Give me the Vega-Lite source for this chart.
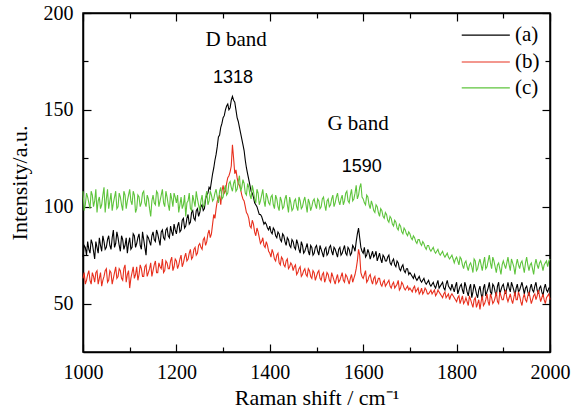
{
 "$schema": "https://vega.github.io/schema/vega-lite/v6.json",
 "width": 467, "height": 339,
 "autosize": {"type": "none"},
 "padding": {"left": 83, "top": 13, "right": 28, "bottom": 61},
 "background": "white",
 "config": {"view": {"stroke": "#000", "strokeWidth": 1.5}, "font": "Liberation Serif",
  "axis": {"labelFont": "Liberation Serif", "titleFont": "Liberation Serif"}},
 "data": {"values": [
{"x":1000,"a":74,"b":63,"c":108},{"x":1005,"a":79,"b":60,"c":101},{"x":1010,"a":82,"b":65,"c":105},{"x":1015,"a":76,"b":62,"c":99},{"x":1020,"a":81,"b":66,"c":106},{"x":1025,"a":73,"b":61,"c":103},{"x":1030,"a":79,"b":67,"c":97},{"x":1035,"a":84,"b":63,"c":105},{"x":1040,"a":77,"b":59,"c":101},{"x":1045,"a":82,"b":64,"c":110},
{"x":1050,"a":79,"b":68,"c":104},{"x":1055,"a":85,"b":62,"c":99},{"x":1060,"a":78,"b":66,"c":107},{"x":1065,"a":88,"b":63,"c":102},{"x":1070,"a":81,"b":69,"c":108},{"x":1075,"a":84,"b":64,"c":100},{"x":1080,"a":77,"b":67,"c":105},{"x":1085,"a":83,"b":62,"c":98},{"x":1090,"a":80,"b":70,"c":106},{"x":1095,"a":76,"b":65,"c":103},
{"x":1100,"a":84,"b":58,"c":109},{"x":1105,"a":79,"b":66,"c":101},{"x":1110,"a":85,"b":63,"c":106},{"x":1115,"a":81,"b":69,"c":99},{"x":1120,"a":86,"b":65,"c":105},{"x":1125,"a":78,"b":68,"c":102},{"x":1130,"a":83,"b":64,"c":108},{"x":1135,"a":75,"b":70,"c":100},{"x":1140,"a":84,"b":66,"c":104},{"x":1145,"a":80,"b":71,"c":95},
{"x":1150,"a":87,"b":67,"c":106},{"x":1155,"a":82,"b":72,"c":101},{"x":1160,"a":86,"b":66,"c":107},{"x":1165,"a":80,"b":69,"c":103},{"x":1170,"a":88,"b":73,"c":109},{"x":1175,"a":83,"b":67,"c":100},{"x":1180,"a":89,"b":71,"c":105},{"x":1185,"a":84,"b":68,"c":98},{"x":1190,"a":87,"b":74,"c":104},{"x":1195,"a":91,"b":69,"c":107},
{"x":1200,"a":86,"b":72,"c":102},{"x":1205,"a":92,"b":70,"c":97},{"x":1210,"a":88,"b":75,"c":105},{"x":1215,"a":94,"b":71,"c":101},{"x":1220,"a":90,"b":76,"c":95},{"x":1225,"a":96,"b":73,"c":103},{"x":1230,"a":92,"b":78,"c":99},{"x":1235,"a":98,"b":74,"c":106},{"x":1240,"a":93,"b":79,"c":100},{"x":1245,"a":99,"b":76,"c":104},
{"x":1250,"a":97,"b":81,"c":98},{"x":1255,"a":101,"b":78,"c":106},{"x":1260,"a":99,"b":84,"c":101},{"x":1265,"a":106,"b":82,"c":108},{"x":1270,"a":110,"b":88,"c":103},{"x":1275,"a":113,"b":86,"c":106},{"x":1280,"a":120,"b":96,"c":104},{"x":1285,"a":127,"b":99,"c":109},{"x":1290,"a":136,"b":104,"c":102},{"x":1295,"a":141,"b":101,"c":110},
{"x":1300,"a":146,"b":111,"c":105},{"x":1305,"a":150,"b":108,"c":111},{"x":1310,"a":153,"b":115,"c":107},{"x":1315,"a":151,"b":118,"c":113},{"x":1320,"a":157,"b":132,"c":108},{"x":1325,"a":154,"b":117,"c":114},{"x":1330,"a":146,"b":115,"c":109},{"x":1335,"a":141,"b":111,"c":116},{"x":1340,"a":135,"b":106,"c":110},{"x":1345,"a":129,"b":103,"c":112},
{"x":1350,"a":120,"b":97,"c":106},{"x":1355,"a":114,"b":94,"c":110},{"x":1360,"a":108,"b":89,"c":104},{"x":1365,"a":105,"b":91,"c":108},{"x":1370,"a":101,"b":85,"c":102},{"x":1375,"a":98,"b":87,"c":107},{"x":1380,"a":96,"b":81,"c":103},{"x":1385,"a":93,"b":84,"c":109},{"x":1390,"a":92,"b":79,"c":100},{"x":1395,"a":89,"b":80,"c":105},
{"x":1400,"a":90,"b":76,"c":101},{"x":1405,"a":86,"b":78,"c":106},{"x":1410,"a":88,"b":73,"c":99},{"x":1415,"a":84,"b":75,"c":104},{"x":1420,"a":86,"b":71,"c":98},{"x":1425,"a":82,"b":74,"c":103},{"x":1430,"a":85,"b":70,"c":100},{"x":1435,"a":80,"b":72,"c":106},{"x":1440,"a":83,"b":68,"c":97},{"x":1445,"a":79,"b":71,"c":102},
{"x":1450,"a":82,"b":67,"c":99},{"x":1455,"a":78,"b":70,"c":104},{"x":1460,"a":81,"b":66,"c":98},{"x":1465,"a":76,"b":69,"c":103},{"x":1470,"a":80,"b":65,"c":100},{"x":1475,"a":77,"b":68,"c":105},{"x":1480,"a":81,"b":64,"c":97},{"x":1485,"a":75,"b":67,"c":102},{"x":1490,"a":79,"b":63,"c":100},{"x":1495,"a":76,"b":66,"c":104},
{"x":1500,"a":80,"b":64,"c":99},{"x":1505,"a":75,"b":67,"c":103},{"x":1510,"a":78,"b":62,"c":100},{"x":1515,"a":74,"b":66,"c":105},{"x":1520,"a":79,"b":63,"c":98},{"x":1525,"a":76,"b":65,"c":104},{"x":1530,"a":80,"b":61,"c":101},{"x":1535,"a":75,"b":64,"c":106},{"x":1540,"a":78,"b":60,"c":102},{"x":1545,"a":74,"b":65,"c":107},
{"x":1550,"a":79,"b":62,"c":101},{"x":1555,"a":76,"b":66,"c":106},{"x":1560,"a":80,"b":61,"c":103},{"x":1565,"a":75,"b":64,"c":108},{"x":1570,"a":78,"b":60,"c":102},{"x":1575,"a":76,"b":65,"c":109},{"x":1580,"a":79,"b":63,"c":104},{"x":1585,"a":82,"b":68,"c":111},{"x":1590,"a":89,"b":78,"c":106},{"x":1595,"a":79,"b":66,"c":112},
{"x":1600,"a":76,"b":63,"c":104},{"x":1605,"a":74,"b":67,"c":101},{"x":1610,"a":78,"b":62,"c":105},{"x":1615,"a":73,"b":65,"c":99},{"x":1620,"a":77,"b":60,"c":101},{"x":1625,"a":75,"b":64,"c":97},{"x":1630,"a":72,"b":61,"c":100},{"x":1635,"a":76,"b":63,"c":95},{"x":1640,"a":71,"b":59,"c":98},{"x":1645,"a":74,"b":62,"c":94},
{"x":1650,"a":72,"b":60,"c":96},{"x":1655,"a":75,"b":62,"c":92},{"x":1660,"a":70,"b":58,"c":94},{"x":1665,"a":73,"b":61,"c":90},{"x":1670,"a":69,"b":59,"c":92},{"x":1675,"a":71,"b":62,"c":88},{"x":1680,"a":67,"b":58,"c":90},{"x":1685,"a":70,"b":60,"c":86},{"x":1690,"a":66,"b":57,"c":88},{"x":1695,"a":68,"b":59,"c":85},
{"x":1700,"a":66,"b":58,"c":86},{"x":1705,"a":64,"b":56,"c":83},{"x":1710,"a":65,"b":59,"c":84},{"x":1715,"a":62,"b":57,"c":81},{"x":1720,"a":64,"b":55,"c":83},{"x":1725,"a":61,"b":58,"c":80},{"x":1730,"a":63,"b":56,"c":81},{"x":1735,"a":60,"b":57,"c":78},{"x":1740,"a":62,"b":55,"c":80},{"x":1745,"a":59,"b":57,"c":77},
{"x":1750,"a":61,"b":56,"c":79},{"x":1755,"a":58,"b":54,"c":76},{"x":1760,"a":62,"b":57,"c":78},{"x":1765,"a":59,"b":55,"c":75},{"x":1770,"a":61,"b":53,"c":77},{"x":1775,"a":57,"b":56,"c":74},{"x":1780,"a":62,"b":54,"c":76},{"x":1785,"a":58,"b":52,"c":73},{"x":1790,"a":60,"b":55,"c":75},{"x":1795,"a":56,"b":53,"c":71},
{"x":1800,"a":61,"b":51,"c":74},{"x":1805,"a":57,"b":54,"c":70},{"x":1810,"a":60,"b":52,"c":73},{"x":1815,"a":55,"b":50,"c":68},{"x":1820,"a":59,"b":53,"c":72},{"x":1825,"a":54,"b":49,"c":67},{"x":1830,"a":60,"b":52,"c":71},{"x":1835,"a":56,"b":48,"c":66},{"x":1840,"a":58,"b":53,"c":72},{"x":1845,"a":53,"b":50,"c":68},
{"x":1850,"a":59,"b":47,"c":73},{"x":1855,"a":52,"b":54,"c":67},{"x":1860,"a":60,"b":50,"c":74},{"x":1865,"a":56,"b":55,"c":69},{"x":1870,"a":61,"b":49,"c":75},{"x":1875,"a":55,"b":53,"c":68},{"x":1880,"a":59,"b":51,"c":72},{"x":1885,"a":54,"b":56,"c":66},{"x":1890,"a":61,"b":50,"c":71},{"x":1895,"a":57,"b":54,"c":65},
{"x":1900,"a":60,"b":52,"c":72},{"x":1905,"a":55,"b":57,"c":68},{"x":1910,"a":61,"b":51,"c":74},{"x":1915,"a":56,"b":55,"c":67},{"x":1920,"a":59,"b":50,"c":71},{"x":1925,"a":54,"b":56,"c":65},{"x":1930,"a":60,"b":52,"c":73},{"x":1935,"a":57,"b":54,"c":68},{"x":1940,"a":61,"b":49,"c":72},{"x":1945,"a":55,"b":55,"c":66},
{"x":1950,"a":59,"b":51,"c":74},{"x":1955,"a":54,"b":56,"c":67},{"x":1960,"a":60,"b":50,"c":71},{"x":1965,"a":56,"b":54,"c":65},{"x":1970,"a":61,"b":52,"c":73},{"x":1975,"a":55,"b":57,"c":68},{"x":1980,"a":59,"b":51,"c":72},{"x":1985,"a":54,"b":55,"c":67},{"x":1990,"a":60,"b":50,"c":71},{"x":1995,"a":56,"b":54,"c":69},
{"x":2000,"a":58,"b":52,"c":73},
{"x":1002.5,"a":80,"b":66,"c":98},{"x":1007.5,"a":75,"b":62,"c":107},{"x":1012.5,"a":78,"b":67,"c":102},{"x":1017.5,"a":83,"b":60,"c":108},{"x":1022.5,"a":77,"b":64,"c":100},{"x":1027.5,"a":82,"b":66,"c":109},{"x":1032.5,"a":76,"b":60,"c":103},{"x":1037.5,"a":80,"b":66,"c":99},{"x":1042.5,"a":85,"b":62,"c":106},{"x":1047.5,"a":78,"b":67,"c":97},
{"x":1052.5,"a":83,"b":61,"c":109},{"x":1057.5,"a":80,"b":67,"c":103},{"x":1062.5,"a":84,"b":60,"c":98},{"x":1067.5,"a":79,"b":66,"c":105},{"x":1072.5,"a":87,"b":63,"c":99},{"x":1077.5,"a":80,"b":68,"c":107},{"x":1082.5,"a":85,"b":63,"c":101},{"x":1087.5,"a":78,"b":68,"c":108},{"x":1092.5,"a":84,"b":61,"c":99},{"x":1097.5,"a":81,"b":67,"c":106},
{"x":1102.5,"a":78,"b":63,"c":103},{"x":1107.5,"a":86,"b":69,"c":108},{"x":1112.5,"a":79,"b":65,"c":97},{"x":1117.5,"a":84,"b":62,"c":106},{"x":1122.5,"a":80,"b":70,"c":100},{"x":1127.5,"a":87,"b":64,"c":107},{"x":1132.5,"a":79,"b":69,"c":102},{"x":1137.5,"a":85,"b":64,"c":106},{"x":1142.5,"a":82,"b":68,"c":99},{"x":1147.5,"a":85,"b":64,"c":103},
{"x":1152.5,"a":83,"b":70,"c":102},{"x":1157.5,"a":88,"b":66,"c":108},{"x":1162.5,"a":83,"b":71,"c":100},{"x":1167.5,"a":87,"b":68,"c":106},{"x":1172.5,"a":84,"b":66,"c":102},{"x":1177.5,"a":88,"b":72,"c":108},{"x":1182.5,"a":85,"b":68,"c":101},{"x":1187.5,"a":90,"b":72,"c":107},{"x":1192.5,"a":85,"b":67,"c":100},{"x":1197.5,"a":88,"b":73,"c":105},
{"x":1202.5,"a":90,"b":68,"c":106},{"x":1207.5,"a":87,"b":73,"c":101},{"x":1212.5,"a":93,"b":69,"c":99},{"x":1217.5,"a":89,"b":74,"c":106},{"x":1222.5,"a":94,"b":72,"c":102},{"x":1227.5,"a":91,"b":76,"c":107},{"x":1232.5,"a":97,"b":73,"c":98},{"x":1237.5,"a":94,"b":78,"c":103},{"x":1242.5,"a":98,"b":75,"c":108},{"x":1247.5,"a":95,"b":80,"c":101},
{"x":1252.5,"a":100,"b":79,"c":103},{"x":1257.5,"a":98,"b":83,"c":100},{"x":1262.5,"a":104,"b":80,"c":105},{"x":1267.5,"a":107,"b":86,"c":101},{"x":1272.5,"a":109,"b":84,"c":108},{"x":1277.5,"a":117,"b":91,"c":103},{"x":1282.5,"a":124,"b":94,"c":107},{"x":1287.5,"a":131,"b":103,"c":105},{"x":1292.5,"a":137,"b":106,"c":108},{"x":1297.5,"a":143,"b":108,"c":104},
{"x":1302.5,"a":147,"b":107,"c":109},{"x":1307.5,"a":152,"b":112,"c":106},{"x":1312.5,"a":150,"b":116,"c":112},{"x":1317.5,"a":155,"b":121,"c":110},{"x":1322.5,"a":155,"b":125,"c":112},{"x":1327.5,"a":150,"b":119,"c":108},{"x":1332.5,"a":144,"b":112,"c":113},{"x":1337.5,"a":138,"b":109,"c":108},{"x":1342.5,"a":132,"b":104,"c":114},{"x":1347.5,"a":124,"b":100,"c":107},
{"x":1352.5,"a":117,"b":96,"c":112},{"x":1357.5,"a":111,"b":90,"c":106},{"x":1362.5,"a":107,"b":93,"c":111},{"x":1367.5,"a":102,"b":87,"c":104},{"x":1372.5,"a":100,"b":89,"c":109},{"x":1377.5,"a":96,"b":84,"c":101},{"x":1382.5,"a":95,"b":82,"c":106},{"x":1387.5,"a":91,"b":80,"c":103},{"x":1392.5,"a":91,"b":82,"c":107},{"x":1397.5,"a":88,"b":77,"c":102},
{"x":1402.5,"a":87,"b":74,"c":105},{"x":1407.5,"a":89,"b":76,"c":101},{"x":1412.5,"a":85,"b":72,"c":106},{"x":1417.5,"a":87,"b":76,"c":100},{"x":1422.5,"a":83,"b":70,"c":105},{"x":1427.5,"a":86,"b":73,"c":99},{"x":1432.5,"a":82,"b":69,"c":104},{"x":1437.5,"a":84,"b":73,"c":101},{"x":1442.5,"a":80,"b":69,"c":105},{"x":1447.5,"a":83,"b":70,"c":98},
{"x":1452.5,"a":79,"b":69,"c":103},{"x":1457.5,"a":83,"b":65,"c":100},{"x":1462.5,"a":78,"b":68,"c":105},{"x":1467.5,"a":82,"b":64,"c":99},{"x":1472.5,"a":76,"b":67,"c":103},{"x":1477.5,"a":79,"b":65,"c":101},{"x":1482.5,"a":77,"b":68,"c":104},{"x":1487.5,"a":80,"b":64,"c":98},{"x":1492.5,"a":75,"b":67,"c":103},{"x":1497.5,"a":79,"b":62,"c":101},
{"x":1502.5,"a":77,"b":66,"c":104},{"x":1507.5,"a":80,"b":63,"c":99},{"x":1512.5,"a":76,"b":65,"c":104},{"x":1517.5,"a":78,"b":61,"c":101},{"x":1522.5,"a":75,"b":66,"c":103},{"x":1527.5,"a":79,"b":62,"c":100},{"x":1532.5,"a":77,"b":66,"c":104},{"x":1537.5,"a":79,"b":62,"c":100},{"x":1542.5,"a":76,"b":63,"c":105},{"x":1547.5,"a":78,"b":61,"c":103},
{"x":1552.5,"a":75,"b":64,"c":104},{"x":1557.5,"a":78,"b":62,"c":101},{"x":1562.5,"a":76,"b":65,"c":107},{"x":1567.5,"a":79,"b":62,"c":103},{"x":1572.5,"a":75,"b":63,"c":106},{"x":1577.5,"a":80,"b":61,"c":103},{"x":1582.5,"a":77,"b":65,"c":107},{"x":1587.5,"a":86,"b":72,"c":104},{"x":1592.5,"a":84,"b":75,"c":110},{"x":1597.5,"a":77,"b":64,"c":105},
{"x":1602.5,"a":79,"b":65,"c":102},{"x":1607.5,"a":75,"b":61,"c":106},{"x":1612.5,"a":76,"b":64,"c":101},{"x":1617.5,"a":75,"b":62,"c":103},{"x":1622.5,"a":74,"b":63,"c":98},{"x":1627.5,"a":77,"b":60,"c":101},{"x":1632.5,"a":74,"b":63,"c":97},{"x":1637.5,"a":73,"b":60,"c":99},{"x":1642.5,"a":75,"b":61,"c":95},{"x":1647.5,"a":72,"b":59,"c":97},
{"x":1652.5,"a":74,"b":61,"c":93},{"x":1657.5,"a":71,"b":59,"c":95},{"x":1662.5,"a":72,"b":60,"c":91},{"x":1667.5,"a":70,"b":58,"c":93},{"x":1672.5,"a":72,"b":60,"c":89},{"x":1677.5,"a":68,"b":57,"c":91},{"x":1682.5,"a":69,"b":61,"c":87},{"x":1687.5,"a":67,"b":58,"c":89},{"x":1692.5,"a":68,"b":58,"c":86},{"x":1697.5,"a":65,"b":57,"c":87},
{"x":1702.5,"a":65,"b":57,"c":84},{"x":1707.5,"a":63,"b":58,"c":85},{"x":1712.5,"a":63,"b":56,"c":82},{"x":1717.5,"a":63,"b":58,"c":83},{"x":1722.5,"a":62,"b":56,"c":81},{"x":1727.5,"a":62,"b":55,"c":82},{"x":1732.5,"a":61,"b":58,"c":79},{"x":1737.5,"a":61,"b":55,"c":80},{"x":1742.5,"a":60,"b":56,"c":78},{"x":1747.5,"a":60,"b":55,"c":78},
{"x":1752.5,"a":59,"b":57,"c":77},{"x":1757.5,"a":60,"b":55,"c":77},{"x":1762.5,"a":58,"b":56,"c":76},{"x":1767.5,"a":60,"b":54,"c":76},{"x":1772.5,"a":58,"b":55,"c":75},{"x":1777.5,"a":60,"b":53,"c":75},{"x":1782.5,"a":59,"b":55,"c":74},{"x":1787.5,"a":57,"b":54,"c":74},{"x":1792.5,"a":58,"b":54,"c":73},{"x":1797.5,"a":59,"b":52,"c":73},
{"x":1802.5,"a":55,"b":53,"c":72},{"x":1807.5,"a":59,"b":50,"c":74},{"x":1812.5,"a":57,"b":54,"c":70},{"x":1817.5,"a":61,"b":51,"c":71},{"x":1822.5,"a":56,"b":51,"c":69},{"x":1827.5,"a":58,"b":54,"c":70},{"x":1832.5,"a":53,"b":50,"c":69},{"x":1837.5,"a":60,"b":52,"c":73},{"x":1842.5,"a":55,"b":48,"c":67},{"x":1847.5,"a":57,"b":52,"c":71},
{"x":1852.5,"a":55,"b":51,"c":70},{"x":1857.5,"a":58,"b":49,"c":71},{"x":1862.5,"a":54,"b":52,"c":68},{"x":1867.5,"a":58,"b":51,"c":72},{"x":1872.5,"a":56,"b":55,"c":71},{"x":1877.5,"a":60,"b":50,"c":74},{"x":1882.5,"a":56,"b":53,"c":69},{"x":1887.5,"a":59,"b":51,"c":70},{"x":1892.5,"a":55,"b":56,"c":68},{"x":1897.5,"a":59,"b":52,"c":70},
{"x":1902.5,"a":57,"b":55,"c":70},{"x":1907.5,"a":58,"b":53,"c":71},{"x":1912.5,"a":58,"b":53,"c":70},{"x":1917.5,"a":61,"b":52,"c":73},{"x":1922.5,"a":57,"b":53,"c":69},{"x":1927.5,"a":58,"b":52,"c":70},{"x":1932.5,"a":56,"b":56,"c":70},{"x":1937.5,"a":59,"b":51,"c":71},{"x":1942.5,"a":58,"b":53,"c":69},{"x":1947.5,"a":58,"b":52,"c":71},
{"x":1952.5,"a":56,"b":54,"c":70},{"x":1957.5,"a":58,"b":53,"c":70},{"x":1962.5,"a":57,"b":52,"c":68},{"x":1967.5,"a":59,"b":55,"c":70},{"x":1972.5,"a":57,"b":54,"c":70},{"x":1977.5,"a":58,"b":54,"c":71},{"x":1982.5,"a":56,"b":53,"c":70},{"x":1987.5,"a":58,"b":52,"c":70},{"x":1992.5,"a":57,"b":53,"c":72},{"x":1997.5,"a":58,"b":55,"c":72}
 ]},
 "layer": [
  {
   "transform": [{"fold": ["a", "b", "c"], "as": ["series", "value"]}],
   "mark": {"type": "line", "strokeWidth": 1.1},
   "encoding": {
    "x": {"field": "x", "type": "quantitative",
     "scale": {"domain": [1000, 2000], "nice": false, "zero": false},
     "axis": {"orient": "bottom", "values": [1000,1100,1200,1300,1400,1500,1600,1700,1800,1900,2000],
      "format": "d", "labelExpr": "datum.value % 200 === 0 ? datum.label : ''",
      "grid": false, "domainColor": "#000", "domainWidth": 1.5, "tickColor": "#000", "tickWidth": 1.2,
      "tickSize": {"condition": {"test": "datum.value % 200 === 0", "value": -8}, "value": -5},
      "labelPadding": 18, "labelFontSize": 20, "labelColor": "#000", "labelFont": "Liberation Serif", "labelFlush": false, "labelOverlap": false,
      "encode": {"labels": {"update": {"font": {"value": "Liberation Serif"}}}},
      "title": "Raman shift / cm⁻¹", "titleFont": "Liberation Serif", "titleFontSize": 22, "titleFontWeight": "normal", "titleColor": "#000", "titlePadding": 2}},
    "y": {"field": "value", "type": "quantitative",
     "scale": {"domain": [25, 200], "nice": false, "zero": false},
     "axis": {"orient": "left", "values": [50,75,100,125,150,175,200],
      "labelExpr": "datum.value % 50 === 0 ? datum.label : ''",
      "grid": false, "domainColor": "#000", "domainWidth": 1.5, "tickColor": "#000", "tickWidth": 1.2,
      "tickSize": {"condition": {"test": "datum.value % 50 === 0", "value": -8}, "value": -5},
      "labelPadding": 18, "labelFontSize": 20, "labelColor": "#000", "labelFont": "Liberation Serif", "labelFlush": false, "labelOverlap": false,
      "encode": {"labels": {"update": {"font": {"value": "Liberation Serif"}}}},
      "title": "Intensity/a.u.", "titleFont": "Liberation Serif", "titleFontSize": 22, "titleFontWeight": "normal", "titleColor": "#000", "titlePadding": 12}},
    "color": {"field": "series", "type": "nominal",
     "scale": {"domain": ["a", "b", "c"], "range": ["#000000", "#e8301e", "#5ec43c"]},
     "legend": null}
   }
  },
  {
   "encoding": {
    "x": {"field": "x", "type": "quantitative",
     "scale": {"domain": [1000, 2000], "nice": false, "zero": false},
     "axis": {"orient": "top", "values": [1000,1100,1200,1300,1400,1500,1600,1700,1800,1900,2000],
      "labels": false, "title": null, "grid": false, "domainColor": "#000", "domainWidth": 1.5, "tickColor": "#000", "tickWidth": 1.2,
      "tickSize": {"condition": {"test": "datum.value % 200 === 0", "value": -8}, "value": -5}}},
    "y": {"field": "y", "type": "quantitative",
     "scale": {"domain": [25, 200], "nice": false, "zero": false},
     "axis": {"orient": "right", "values": [50,75,100,125,150,175,200],
      "labels": false, "title": null, "grid": false, "domainColor": "#000", "domainWidth": 1.5, "tickColor": "#000", "tickWidth": 1.2,
      "tickSize": {"condition": {"test": "datum.value % 50 === 0", "value": -8}, "value": -5}}}
   },
   "layer": [
    {"data": {"values": [
      {"x": 1328, "y": 186, "t": "D band"},
      {"x": 1589, "y": 142.7, "t": "G band"}
     ]},
     "mark": {"type": "text", "font": "Liberation Serif", "fontSize": 21, "color": "#000", "baseline": "middle", "align": "center"},
     "encoding": {"text": {"field": "t"}}},
    {"data": {"values": [
      {"x": 1321, "y": 166.4, "t": "1318"},
      {"x": 1597, "y": 120.5, "t": "1590"}
     ]},
     "mark": {"type": "text", "font": "Liberation Sans", "fontSize": 18, "color": "#000", "baseline": "middle", "align": "center"},
     "encoding": {"text": {"field": "t"}}},
    {"data": {"values": [
      {"x": 1811, "x2": 1914, "y": 188.6, "series": "a"},
      {"x": 1811, "x2": 1914, "y": 174.7, "series": "b"},
      {"x": 1811, "x2": 1914, "y": 161.3, "series": "c"}
     ]},
     "mark": {"type": "rule", "strokeWidth": 1.2},
     "encoding": {"x2": {"field": "x2"}, "color": {"field": "series", "type": "nominal", "legend": null}}},
    {"data": {"values": [
      {"x": 1925, "y": 188.6, "t": "(a)"},
      {"x": 1925, "y": 174.7, "t": "(b)"},
      {"x": 1925, "y": 161.3, "t": "(c)"}
     ]},
     "mark": {"type": "text", "font": "Liberation Serif", "fontSize": 21, "color": "#000", "baseline": "middle", "align": "left"},
     "encoding": {"text": {"field": "t"}}}
   ]
  }
 ],
 "resolve": {"scale": {"x": "independent", "y": "independent"}}
}
